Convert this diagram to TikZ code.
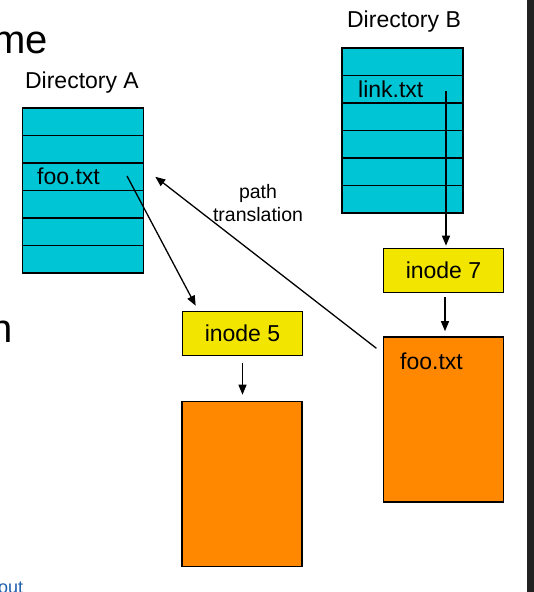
\documentclass[tikz,border=0pt]{standalone}
\usepackage{fontspec}
\setmainfont{Liberation Sans}
\usepackage{tikz}
\usetikzlibrary{arrows.meta,positioning,calc}
\definecolor{dircyan}{RGB}{0,197,213}
\definecolor{inodeyellow}{RGB}{242,230,0}
\definecolor{dataorange}{RGB}{255,136,0}
\definecolor{slideblue}{RGB}{31,95,175}

\begin{document}
\begin{tikzpicture}[x=1pt, y=-1pt,
    every node/.style={font=\fontsize{23}{27}\selectfont},
    row/.style={draw, line width=1.6pt, fill=dircyan, minimum width=121pt, minimum height=27.5pt, inner sep=0pt},
    inode/.style={draw, line width=1.6pt, fill=inodeyellow, minimum width=120pt, minimum height=44pt},
    block/.style={draw, line width=1.6pt, fill=dataorange, minimum width=120pt, minimum height=165pt},
    entry/.style={anchor=west, inner sep=0pt},
    ptr/.style={-{Triangle[length=10pt,width=8pt]}, line width=1.3pt}]
            \fill[white] (0,0) rectangle (534,592);
            \clip (0,0) rectangle (534,592);
            % bits of the slide around the picture
            \node[anchor=base east, inner sep=0pt, font=\fontsize{40}{48}\selectfont] (titlefrag) at (48,53) {me};
            \node[anchor=base east, inner sep=0pt, font=\fontsize{40}{48}\selectfont] (bodyfrag) at (13,342) {n};
            \node[anchor=base west, inner sep=0pt, font=\fontsize{18}{21}\selectfont, text=slideblue] (footfrag) at (-2,593) {out};
            \fill[black!87] (527,0) rectangle (534,592);

            % Directory A
            \node (dirAlabel) at (82,83) {Directory A};
            \node[row] (a1) at (83,121.75) {};
            \node[row] (a2) at (83,149.25) {};
            \node[row] (a3) at (83,176.75) {};
            \node[row] (a4) at (83,204.25) {};
            \node[row] (a5) at (83,231.75) {};
            \node[row] (a6) at (83,259.25) {};
            \node[entry] (fooA) at (37,176.75) {foo.txt};
            \coordinate (fooptr) at (127,176);

            % Directory B
            \node (dirBlabel) at (404,22) {Directory B};
            \node[row] (b1) at (402.5,61.75) {};
            \node[row] (b2) at (402.5,89.25) {};
            \node[row] (b3) at (402.5,116.75) {};
            \node[row] (b4) at (402.5,144.25) {};
            \node[row] (b5) at (402.5,171.75) {};
            \node[row] (b6) at (402.5,199.25) {};
            \node[entry] (linkB) at (358,89.25) {link.txt};
            \coordinate (linkptr) at (446,91);

            % inodes and data
            \node[inode] (inA) at (242.5,333.5) {inode 5};
            \node[inode] (inB) at (443.5,270.5) {inode 7};
            \node[block] (dataA) at (242,484) {};
            \node[block] (dataB) at (443.5,419.5) {};
            \node[entry] (fooB) at (400,361) {foo.txt};

            \draw[ptr] (fooptr) -- ([xshift=14pt,yshift=5pt]inA.north west);
            \draw[ptr, shorten >=2pt] (linkptr) -- (linkptr |- inB.north);
            \draw[ptr, shorten <=4pt, shorten >=5pt] ([xshift=1.5pt]inB.south) -- ([xshift=1.5pt]inB.south |- dataB.north);
            \draw[ptr, shorten <=7pt, shorten >=6pt] (inA.south) -- (inA.south |- dataA.north);
            \draw[ptr, shorten <=8pt] ([yshift=-17pt]dataB.north west) -- ([xshift=11pt]a3.east);
            \node[font=\fontsize{19.5}{23}\selectfont, align=center] (ptlabel) at (258,203) {path\\translation};
        \end{tikzpicture}
\end{document}
